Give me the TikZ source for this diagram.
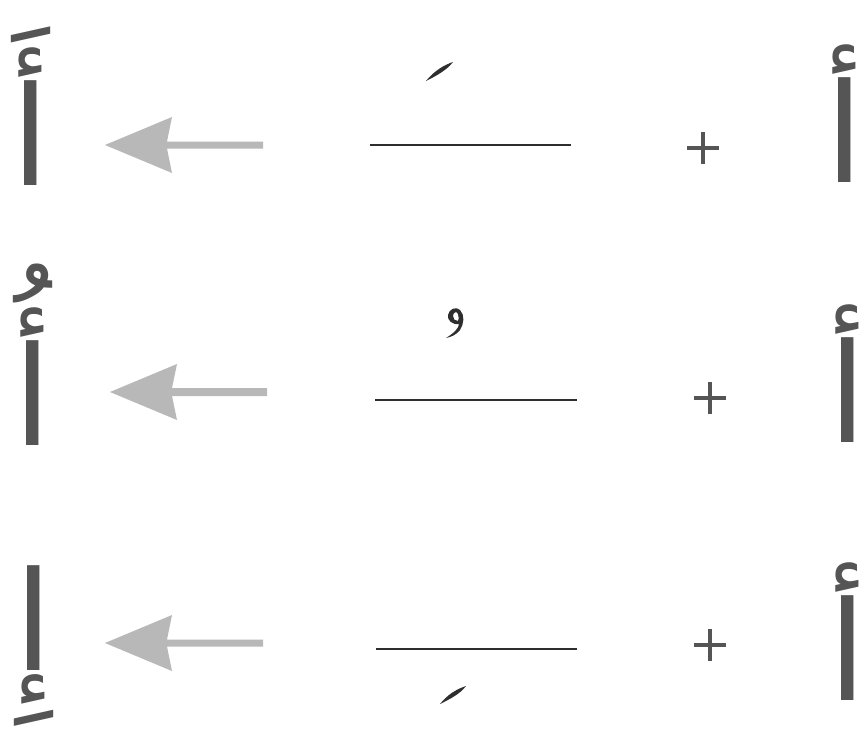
\documentclass[tikz,border=0pt]{standalone}
\usepackage{fontspec}
\newfontfamily\arabicfont[Script=Arabic]{DejaVu Sans}
\TeXXeTstate=1
\definecolor{lettergray}{HTML}{555555}
\definecolor{arrowgray}{HTML}{B8B8B8}
\definecolor{linegray}{HTML}{2E2E2E}
\definecolor{plusgray}{HTML}{555555}
\tikzset{
  letter/.style={font=\arabicfont\fontsize{138}{138}\selectfont, text=lettergray, inner sep=0pt, anchor=base},
  blankline/.style={draw=linegray, line width=2.8pt},
  plusmark/.style={draw=plusgray, line width=3.5pt},
  harakafill/.style={fill=linegray},
  arrowfill/.style={fill=arrowgray},
}
\begin{document}
\begin{tikzpicture}[x=1pt,y=-1pt]
\useasboundingbox[fill=white] (0,0) rectangle (866,739);

% ---------- row 1 ----------
\node[letter] (L1) at (31,185) {\beginR أَ\endR};
\node[letter] (R1) at (845,182) {\beginR أ\endR};
\coordinate (A1) at (105,145);
\fill[arrowfill, shift={(A1)}] (0,0) -- (67,-28) -- (62,-3.5) -- (158,-3.5) -- (158,3.5) -- (62,3.5) -- (67,28) -- cycle;
\coordinate (B1a) at (370,145); \coordinate (B1b) at (571,145);
\draw[blankline] (B1a) -- (B1b);
\fill[harakafill] (426,81) .. controls (434,71) and (444,65) .. (453,62) .. controls (447,70) and (436,76) .. cycle;
\coordinate (P1) at (703,148);
\draw[plusmark] ([xshift=-16pt]P1) -- ([xshift=16pt]P1);
\draw[plusmark] ([yshift=-16pt]P1) -- ([yshift=16pt]P1);

% ---------- row 2 ----------
\node[letter] (L2) at (33,445) {\beginR أُ\endR};
\node[letter] (R2) at (848,442) {\beginR أ\endR};
\coordinate (A2) at (110,392);
\fill[arrowfill, shift={(A2)}] (0,0) -- (67,-28) -- (62,-4) -- (157,-4) -- (157,4) -- (62,4) -- (67,28) -- cycle;
\coordinate (B2a) at (375,400); \coordinate (B2b) at (577,400);
\draw[blankline] (B2a) -- (B2b);
\fill[harakafill, even odd rule]
  (446,338) .. controls (454,333) and (459,328) .. (459,324)
  .. controls (452,325) and (447,320) .. (448,315)
  .. controls (449,309) and (456,306) .. (460,310)
  .. controls (465,315) and (464,324) .. (460,330)
  .. controls (456,335) and (451,337) .. cycle
  (453,316) .. controls (453,312) and (457,311) .. (458,314)
  .. controls (459,317) and (459,320) .. (458,321)
  .. controls (455,321) and (453,319) .. cycle;
\coordinate (P2) at (710,398);
\draw[plusmark] ([xshift=-16pt]P2) -- ([xshift=16pt]P2);
\draw[plusmark] ([yshift=-16pt]P2) -- ([yshift=16pt]P2);

% ---------- row 3 ----------
\node[letter] (L3) at (34,670) {\beginR إِ\endR};
\node[letter] (R3) at (848,700) {\beginR أ\endR};
\coordinate (A3) at (105,643);
\fill[arrowfill, shift={(A3)}] (0,0) -- (67,-28) -- (62,-3.5) -- (158,-3.5) -- (158,3.5) -- (62,3.5) -- (67,28) -- cycle;
\coordinate (B3a) at (376,649); \coordinate (B3b) at (577,649);
\draw[blankline] (B3a) -- (B3b);
\fill[harakafill] (440,704) .. controls (448,694) and (457,689) .. (466,686) .. controls (460,694) and (450,699) .. cycle;
\coordinate (P3) at (710,645);
\draw[plusmark] ([xshift=-16pt]P3) -- ([xshift=16pt]P3);
\draw[plusmark] ([yshift=-16pt]P3) -- ([yshift=16pt]P3);
\end{tikzpicture}
\end{document}
